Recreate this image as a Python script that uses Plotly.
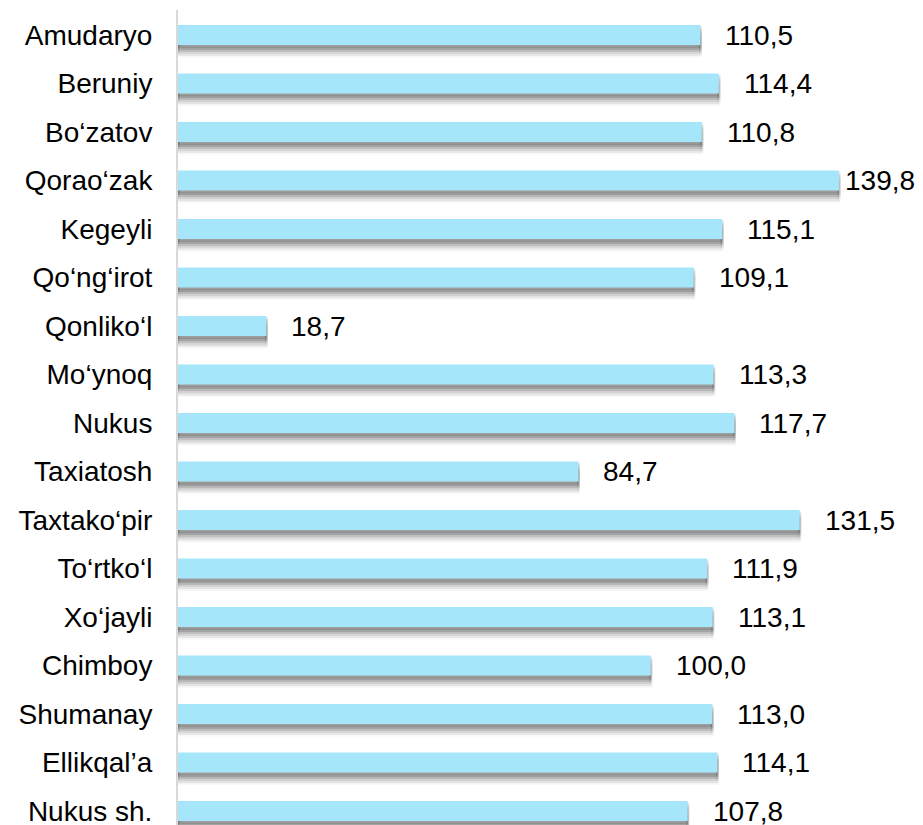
import plotly.graph_objects as go

categories = ["Amudaryo", "Beruniy", "Bo‘zatov", "Qorao‘zak", "Kegeyli", "Qo‘ng‘irot",
              "Qonliko‘l", "Mo‘ynoq", "Nukus", "Taxiatosh", "Taxtako‘pir", "To‘rtko‘l",
              "Xo‘jayli", "Chimboy", "Shumanay", "Ellikqal’a", "Nukus sh."]
values = [110.5, 114.4, 110.8, 139.8, 115.1, 109.1, 18.7, 113.3, 117.7, 84.7,
          131.5, 111.9, 113.1, 100.0, 113.0, 114.1, 107.8]
labels = [f"{v:.1f}".replace(".", ",") for v in values]

# page body has an 8px margin; figure origin sits at (8, 8) in the window
W, H = 907, 817
ML, MT = 170, 2
px_per_unit = 4.728
XMAX = (W - ML) / px_per_unit
cat_px = 48.5
bar_w = 20 / cat_px
first_center = 27
r_top = (MT - first_center) / cat_px
r_bot = (H - first_center) / cat_px
font = dict(family="Liberation Sans, Arial, sans-serif", size=28, color="#000000")

fig = go.Figure()
# soft shadow layers
for off, alpha in [(11, 0.05), (9, 0.07), (7, 0.10), (5, 0.14), (3, 0.18)]:
    fig.add_trace(go.Bar(
        y=categories, x=values, orientation="h",
        width=bar_w, offset=-bar_w / 2 + off / cat_px,
        marker=dict(color=f"rgba(40,40,40,{alpha})",
                    line=dict(color=f"rgba(40,40,40,{alpha * 0.6})", width=3)),
        hoverinfo="skip", showlegend=False))
fig.add_trace(go.Bar(
    y=categories, x=values, orientation="h",
    width=bar_w, offset=-bar_w / 2,
    marker=dict(color="#a6e6fa", line=dict(width=0)),
    showlegend=False))

annotations = []
for c, v, t in zip(categories, values, labels):
    text_w = (len(t) - 1) * 0.556 * font["size"] + 0.278 * font["size"]
    end_px = v * px_per_unit
    shift = min(23, (W - ML) - end_px - text_w - 2)
    annotations.append(dict(x=v, y=c, xref="x", yref="y", text=t, showarrow=False,
                            xanchor="left", yanchor="middle", xshift=shift, font=font))

fig.update_layout(
    width=W, height=H,
    margin=dict(l=ML, r=0, t=MT, b=0, autoexpand=False),
    paper_bgcolor="white", plot_bgcolor="white",
    barmode="overlay",
    annotations=annotations,
    xaxis=dict(range=[0, XMAX], showgrid=False, zeroline=False, showticklabels=False,
               showline=False, fixedrange=True, automargin=False),
    yaxis=dict(type="category", categoryorder="array", categoryarray=categories,
               range=[r_bot, r_top], showgrid=False, zeroline=False,
               showline=True, linecolor="#d9d9d9", linewidth=2, automargin=False,
               ticks="", ticklabelstandoff=18, tickfont=font),
)

fig.write_html("out.html")
